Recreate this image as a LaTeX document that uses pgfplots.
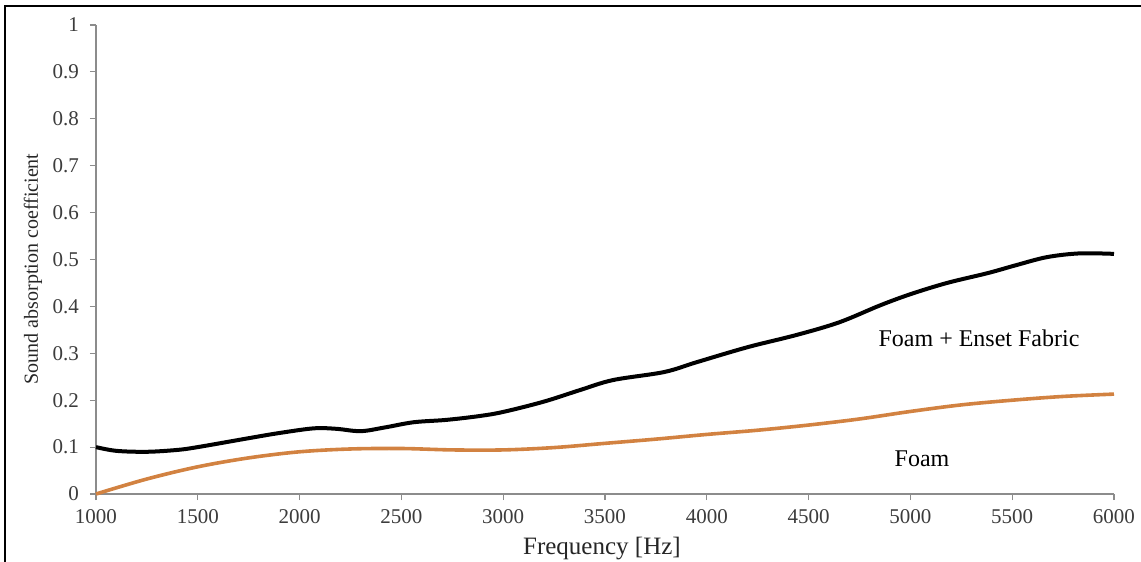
\documentclass[border=0pt]{standalone}
\usepackage{pgfplots}
\pgfplotsset{compat=1.18}
\usepackage{fontspec}
\setmainfont{Liberation Serif}
\definecolor{foamorange}{RGB}{210,130,65}
\definecolor{axgray}{RGB}{140,140,140}
\definecolor{tickgray}{RGB}{60,60,60}
\begin{document}
\begin{tikzpicture}
\useasboundingbox (0,0) rectangle (570.5pt,281pt);
\draw[line width=1pt,black] (2.5pt,0) -- (2.5pt,278pt) -- (570.5pt,278pt);
\begin{axis}[
  at={(48pt,34pt)}, anchor=origin,
  scale only axis, width=509pt, height=234.5pt,
  xmin=1000, xmax=6000, ymin=0, ymax=1,
  xtick={1000,1500,...,6000},
  ytick={0,0.1,0.2,0.3,0.4,0.5,0.6,0.7,0.8,0.9,1},
  yticklabels={0,0.1,0.2,0.3,0.4,0.5,0.6,0.7,0.8,0.9,1},
  scaled x ticks=false,
  /pgf/number format/1000 sep={},
  /pgf/number format/assume math mode=true,
  axis x line*=bottom, axis y line*=left,
  axis line style={axgray, line width=0.6pt},
  tick style={axgray, line width=0.6pt},
  tick align=outside, major tick length=3pt,
  tick label style={font=\fontsize{10.5}{12}\selectfont, text=tickgray},
  xticklabel style={yshift=-1pt},
  yticklabel style={xshift=-2pt},
  xlabel={Frequency [Hz]},
  ylabel={Sound absorption coefficient},
  xlabel style={at={(axis description cs:0.497,-0.117)}, anchor=center, font=\fontsize{12.5}{14}\selectfont, text=black!85},
  ylabel style={at={(axis description cs:-0.062,0.48)}, anchor=center, rotate=0, font=\fontsize{10}{12}\selectfont, text=black!85},
  clip=false,
]
\addplot[black, line width=2pt, smooth, tension=0.55] coordinates {
(1000,0.100) (1100,0.092) (1250,0.090) (1400,0.094) (1500,0.100) (1750,0.119)
(1900,0.130) (2070,0.140) (2180,0.139) (2300,0.134) (2420,0.142) (2560,0.153)
(2720,0.158) (2880,0.166) (3000,0.175) (3200,0.197) (3380,0.222) (3540,0.243)
(3790,0.260) (3950,0.281) (4200,0.313) (4440,0.339) (4650,0.366) (4850,0.402)
(5000,0.426) (5180,0.450) (5380,0.471) (5520,0.488) (5670,0.505) (5830,0.513)
(6000,0.512)
};
\addplot[foamorange, line width=1.8pt, smooth, tension=0.55] coordinates {
(1000,0.000) (1250,0.032) (1500,0.058) (1750,0.077) (2000,0.090) (2250,0.096)
(2500,0.097) (2750,0.094) (3000,0.094) (3250,0.099) (3500,0.108) (3750,0.117)
(4000,0.127) (4250,0.136) (4500,0.147) (4750,0.160) (5000,0.176) (5250,0.190)
(5500,0.200) (5750,0.208) (6000,0.213)
};
\node[font=\fontsize{12}{14}\selectfont] at (axis cs:5337,0.333) {Foam + Enset Fabric};
\node[font=\fontsize{12}{14}\selectfont] at (axis cs:5057,0.075) {Foam};
\end{axis}
\end{tikzpicture}
\end{document}
